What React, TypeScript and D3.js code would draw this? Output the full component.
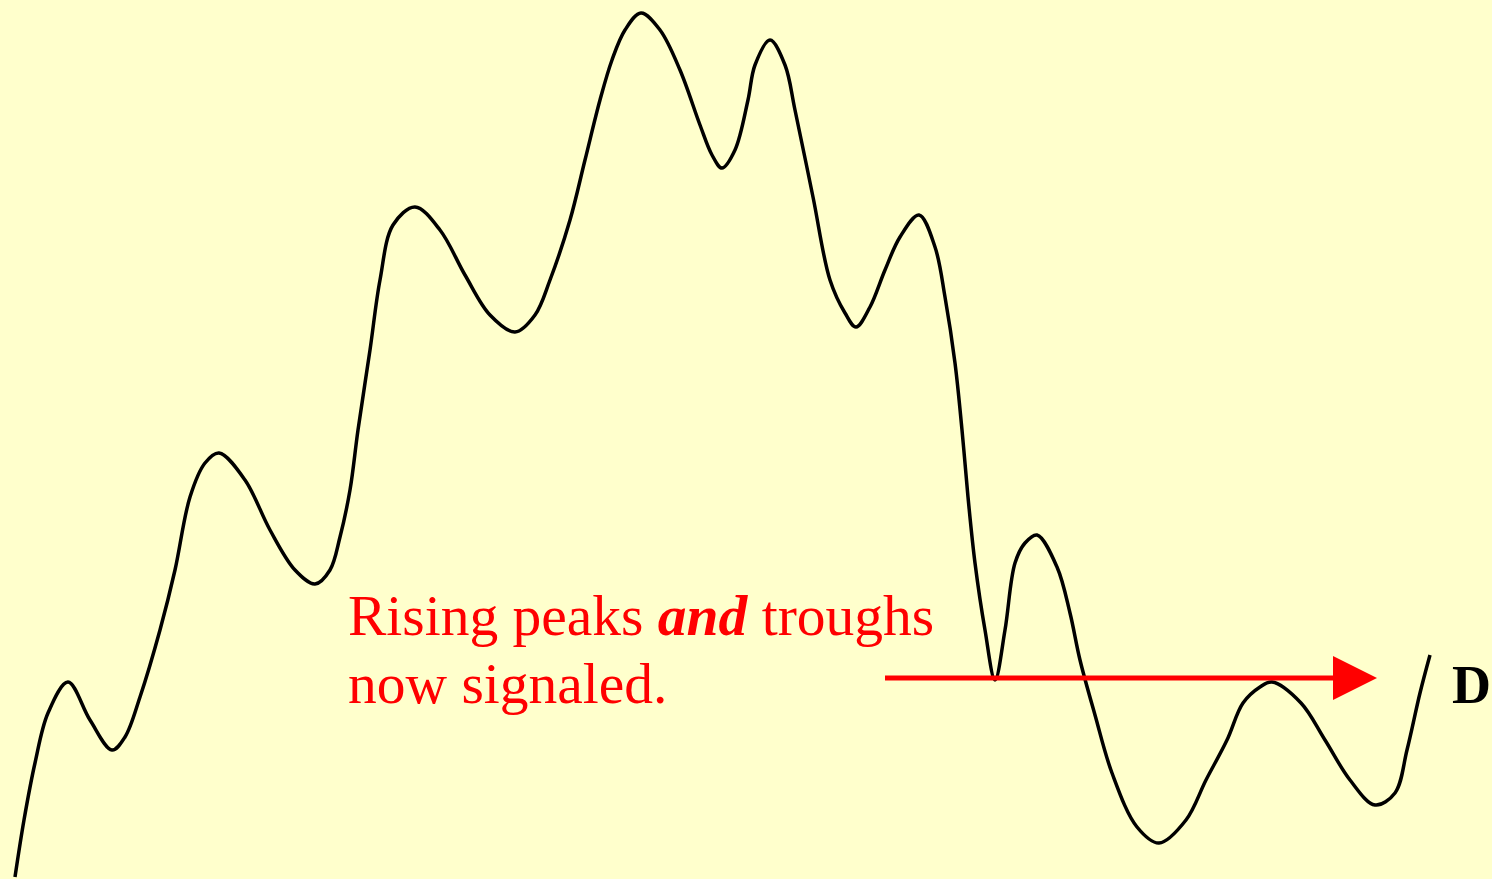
import React, { useEffect, useRef } from 'react';
import * as d3 from 'd3';

// price path (time in px units, price = height above bottom)
const time = [
  15, 24, 35, 48, 68, 90, 112, 125, 140, 160, 175, 190, 205, 219, 245, 270, 295, 315, 330, 340,
  350, 358, 370, 380, 393, 415, 440, 465, 490, 515, 535, 550, 570, 585, 600, 612, 625, 641, 660,
  680, 700, 712, 722, 735, 748, 755, 770, 785, 795, 813, 830, 845, 856, 870, 885, 900, 919, 935,
  945, 955, 962, 968, 975, 985, 995, 1005, 1015, 1025, 1037, 1057, 1070, 1080, 1095, 1112, 1137,
  1159, 1186, 1206, 1227, 1243, 1260, 1272, 1301, 1325, 1350, 1375, 1395, 1407, 1420, 1430,
];
const price = [
  2, 59, 116, 166, 197, 159, 129, 142, 182, 249, 309, 382, 416, 426, 399, 349, 309, 295, 309, 342,
  389, 449, 529, 599, 654, 672, 649, 604, 564, 547, 564, 599, 659, 719, 779, 819, 849, 866, 849,
  809, 754, 724, 711, 729, 779, 814, 839, 814, 769, 682, 599, 566, 552, 572, 609, 642, 664, 632,
  582, 516, 449, 382, 316, 249, 199, 249, 316, 336, 344, 312, 266, 219, 164, 106, 52,
  36, 59, 99, 139, 176, 192, 197, 176, 139, 99, 74, 86, 129, 186, 224,
];

const captionLines = ['Rising peaks ', 'and', ' troughs'];
const captionLine2 = 'now signaled.';
const arrowLevel = 201; // price level of the signal line
const arrowFrom = 885;
const arrowTo = 1377;
const pointLabel = 'D';

const W = 1492;
const H = 879;

export default function App() {
  const ref = useRef<SVGSVGElement>(null);

  useEffect(() => {
    if (!ref.current) return;
    const svg = d3.select(ref.current);
    svg.selectAll('*').remove();

    const x = d3.scaleLinear().domain([0, W]).range([0, W]);
    const y = d3.scaleLinear().domain([0, H]).range([H, 0]);

    svg.append('rect').attr('width', W).attr('height', H).attr('fill', '#ffffcc');

    const pts: [number, number][] = time.map((t, i) => [t, price[i]]);
    const line = d3
      .line<[number, number]>()
      .x(d => x(d[0]))
      .y(d => y(d[1]))
      .curve(d3.curveCatmullRom.alpha(0.5));

    svg
      .append('path')
      .attr('d', line(pts))
      .attr('fill', 'none')
      .attr('stroke', '#000')
      .attr('stroke-width', 3.5)
      .attr('stroke-linejoin', 'round');

    // red signal arrow
    const ay = y(arrowLevel);
    svg
      .append('line')
      .attr('x1', x(arrowFrom))
      .attr('x2', x(arrowTo) - 40)
      .attr('y1', ay)
      .attr('y2', ay)
      .attr('stroke', '#ff0000')
      .attr('stroke-width', 5);
    svg
      .append('path')
      .attr('d', `M${x(arrowTo) - 44},${ay - 22}L${x(arrowTo)},${ay}L${x(arrowTo) - 44},${ay + 22}Z`)
      .attr('fill', '#ff0000');

    const font = '"Liberation Serif", "Times New Roman", serif';

    const caption = svg
      .append('text')
      .attr('x', 348)
      .attr('y', 635)
      .attr('fill', '#ff0000')
      .style('font-family', font)
      .style('font-size', '57.5px')
      .style('white-space', 'pre');
    captionLines.forEach((s, i) => {
      caption
        .append('tspan')
        .text(s)
        .style('font-weight', i === 1 ? 'bold' : 'normal')
        .style('font-style', i === 1 ? 'italic' : 'normal');
    });

    svg
      .append('text')
      .attr('x', 348)
      .attr('y', 703)
      .attr('fill', '#ff0000')
      .style('font-family', font)
      .style('font-size', '57.5px')
      .text(captionLine2);

    svg
      .append('text')
      .attr('x', 1452)
      .attr('y', 703)
      .attr('fill', '#000')
      .style('font-family', font)
      .style('font-size', '54px')
      .style('font-weight', 'bold')
      .text(pointLabel);
  }, []);

  return (
    <svg
      ref={ref}
      width={W}
      height={H}
      style={{ position: 'absolute', left: 0, top: 0, display: 'block' }}
    />
  );
}
